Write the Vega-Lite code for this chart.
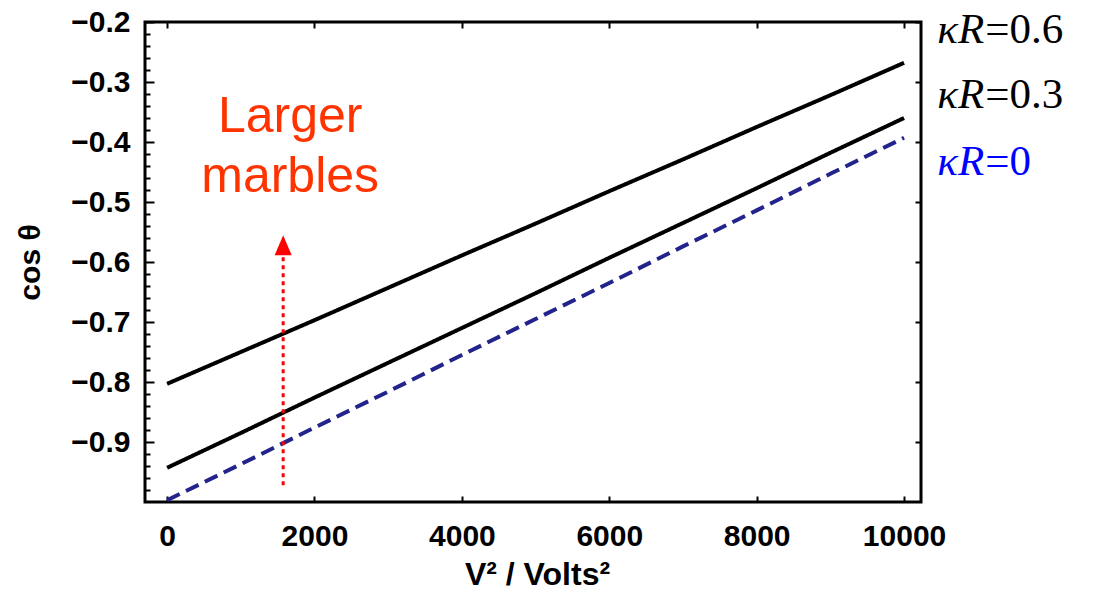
{
  "$schema": "https://vega.github.io/schema/vega-lite/v6.json",
  "width": 776,
  "height": 480,
  "autosize": {"type": "none"},
  "padding": {"left": 145, "top": 22, "right": 172, "bottom": 90},
  "background": "white",
  "config": {
    "view": {"stroke": "black", "strokeWidth": 3},
    "axis": {"domain": false, "grid": false, "labelFont": "Liberation Sans", "labelFontWeight": "bold", "labelFontSize": 30, "labelColor": "black", "tickColor": "black", "titleFont": "Liberation Sans", "titleFontWeight": "bold", "titleColor": "black"}
  },
  "resolve": {"axis": {"x": "independent", "y": "independent"}, "scale": {"color": "independent"}},
  "layer": [
    {
      "data": {"values": [
        {"x": 0, "y": -0.803, "s": "k06"}, {"x": 1000, "y": -0.750, "s": "k06"}, {"x": 2000, "y": -0.697, "s": "k06"}, {"x": 3000, "y": -0.643, "s": "k06"}, {"x": 4000, "y": -0.589, "s": "k06"}, {"x": 5000, "y": -0.536, "s": "k06"}, {"x": 6000, "y": -0.482, "s": "k06"}, {"x": 7000, "y": -0.429, "s": "k06"}, {"x": 8000, "y": -0.375, "s": "k06"}, {"x": 9000, "y": -0.322, "s": "k06"}, {"x": 10000, "y": -0.268, "s": "k06"},
        {"x": 0, "y": -0.943, "s": "k03"}, {"x": 1000, "y": -0.885, "s": "k03"}, {"x": 2000, "y": -0.826, "s": "k03"}, {"x": 3000, "y": -0.768, "s": "k03"}, {"x": 4000, "y": -0.710, "s": "k03"}, {"x": 5000, "y": -0.652, "s": "k03"}, {"x": 6000, "y": -0.593, "s": "k03"}, {"x": 7000, "y": -0.535, "s": "k03"}, {"x": 8000, "y": -0.477, "s": "k03"}, {"x": 9000, "y": -0.418, "s": "k03"}, {"x": 10000, "y": -0.360, "s": "k03"},
        {"x": 0, "y": -0.997, "s": "k0"}, {"x": 1000, "y": -0.937, "s": "k0"}, {"x": 2000, "y": -0.876, "s": "k0"}, {"x": 3000, "y": -0.816, "s": "k0"}, {"x": 4000, "y": -0.755, "s": "k0"}, {"x": 5000, "y": -0.695, "s": "k0"}, {"x": 6000, "y": -0.635, "s": "k0"}, {"x": 7000, "y": -0.574, "s": "k0"}, {"x": 8000, "y": -0.514, "s": "k0"}, {"x": 9000, "y": -0.453, "s": "k0"}, {"x": 10000, "y": -0.393, "s": "k0"}
      ]},
      "mark": {"type": "line", "strokeWidth": 4, "clip": true},
      "encoding": {
        "x": {"field": "x", "type": "quantitative", "scale": {"domain": [-300, 10230], "nice": false, "zero": false},
          "axis": {"orient": "bottom", "values": [0, 2000, 4000, 6000, 8000, 10000], "format": "d", "offset": -6, "tickSize": 6, "tickWidth": 2, "labelPadding": 19, "title": "V² / Volts²", "titleFontSize": 32, "titleX": 392, "titleY": 88, "titleBaseline": "alphabetic"}},
        "y": {"field": "y", "type": "quantitative", "scale": {"domain": [-1, -0.2], "nice": false, "zero": false},
          "axis": {"orient": "left", "values": [-0.9, -0.8, -0.7, -0.6, -0.5, -0.4, -0.3, -0.2], "offset": -9, "tickSize": 9, "tickWidth": 2, "labelPadding": 15, "format": ".1f", "title": "cos θ", "titleFontSize": 30, "titleX": -124, "titleY": 240, "titleAngle": 270, "titleAlign": "center", "titleBaseline": "middle"}},
        "color": {"field": "s", "type": "nominal", "scale": {"domain": ["k06", "k03", "k0"], "range": ["black", "black", "#23238c"]}, "legend": null},
        "strokeDash": {"field": "s", "type": "nominal", "scale": {"domain": ["k06", "k03", "k0"], "range": [[1, 0], [1, 0], [14, 7]]}, "legend": null},
        "strokeWidth": {"field": "s", "type": "nominal", "scale": {"domain": ["k06", "k03", "k0"], "range": [4, 4, 5]}, "legend": null}
      }
    },
    {
      "data": {"values": [{"x": 1575, "y": -0.972}, {"x": 1575, "y": -0.588}]},
      "mark": {"type": "line", "color": "#ff0000", "strokeWidth": 3, "strokeDash": [4, 4]},
      "encoding": {
        "x": {"field": "x", "type": "quantitative", "axis": {"orient": "top", "values": [0, 2000, 4000, 6000, 8000, 10000], "offset": -6, "tickSize": 6, "tickWidth": 2, "labels": false, "title": null}},
        "y": {"field": "y", "type": "quantitative", "axis": {"orient": "right", "values": [-0.9, -0.8, -0.7, -0.6, -0.5, -0.4, -0.3, -0.2], "offset": -6, "tickSize": 6, "tickWidth": 2, "labels": false, "title": null}}
      }
    },
    {
      "data": {"values": [{"x": 1575, "y": -0.572}]},
      "mark": {"type": "point", "shape": "M0,-1L0.85,1L-0.85,1Z", "filled": true, "color": "#ff0000", "size": 400, "opacity": 1},
      "encoding": {
        "x": {"field": "x", "type": "quantitative", "axis": null},
        "y": {"field": "y", "type": "quantitative", "axis": {"orient": "left", "values": [-0.98, -0.96, -0.94, -0.92, -0.88, -0.86, -0.84, -0.82, -0.78, -0.76, -0.74, -0.72, -0.68, -0.66, -0.64, -0.62, -0.58, -0.56, -0.54, -0.52, -0.48, -0.46, -0.44, -0.42, -0.38, -0.36, -0.34, -0.32, -0.28, -0.26, -0.24, -0.22], "offset": -5, "tickSize": 5, "tickWidth": 2, "labels": false, "title": null}}
      }
    },
    {
      "data": {"values": [{"x": 1670, "y": -0.383, "t": "Larger"}, {"x": 1670, "y": -0.483, "t": "marbles"}]},
      "mark": {"type": "text", "font": "Liberation Sans", "fontSize": 50, "color": "#ff3300", "align": "center", "baseline": "alphabetic"},
      "encoding": {
        "x": {"field": "x", "type": "quantitative", "axis": null},
        "y": {"field": "y", "type": "quantitative", "axis": null},
        "text": {"field": "t"}
      }
    },
    {
      "data": {"values": [{"x": 10452, "y": -0.235, "t": "κR", "c": "k"}, {"x": 10452, "y": -0.343, "t": "κR", "c": "k"}, {"x": 10452, "y": -0.455, "t": "κR", "c": "b"}]},
      "mark": {"type": "text", "font": "Liberation Serif", "fontStyle": "italic", "fontSize": 43, "align": "left", "baseline": "alphabetic"},
      "encoding": {
        "x": {"field": "x", "type": "quantitative", "axis": null},
        "y": {"field": "y", "type": "quantitative", "axis": null},
        "text": {"field": "t"},
        "color": {"field": "c", "type": "nominal", "scale": {"domain": ["k", "b"], "range": ["black", "#0000ff"]}, "legend": null}
      }
    },
    {
      "data": {"values": [{"x": 10452, "y": -0.235, "t": "=0.6", "c": "k"}, {"x": 10452, "y": -0.343, "t": "=0.3", "c": "k"}, {"x": 10452, "y": -0.455, "t": "=0", "c": "b"}]},
      "mark": {"type": "text", "font": "Liberation Serif", "fontSize": 43, "align": "left", "baseline": "alphabetic", "dx": 48},
      "encoding": {
        "x": {"field": "x", "type": "quantitative", "axis": null},
        "y": {"field": "y", "type": "quantitative", "axis": null},
        "text": {"field": "t"},
        "color": {"field": "c", "type": "nominal", "scale": {"domain": ["k", "b"], "range": ["black", "#0000ff"]}, "legend": null}
      }
    }
  ]
}
